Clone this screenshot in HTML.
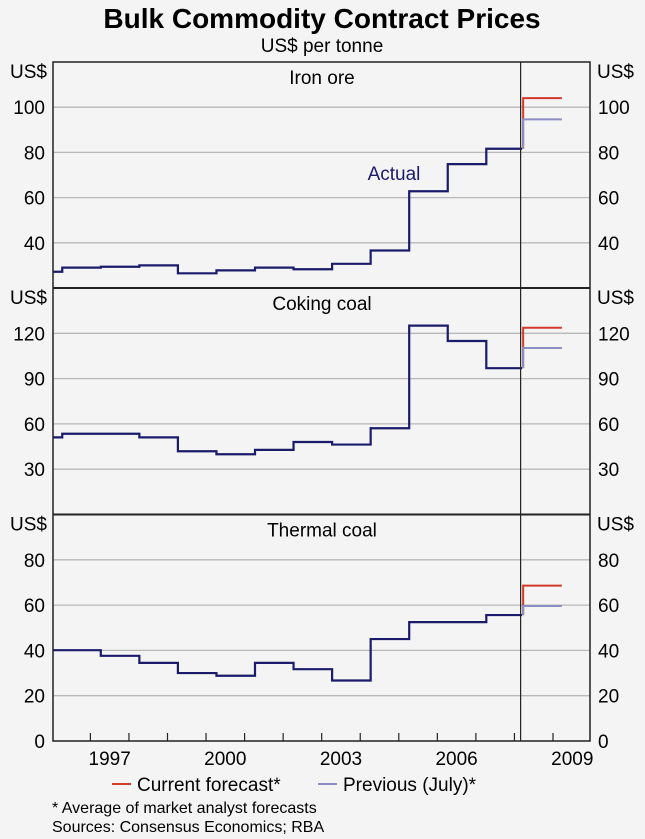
<!DOCTYPE html>
<html><head><meta charset="utf-8"><style>
html,body{margin:0;padding:0;background:#f4f4f4;}
svg{display:block;font-family:"Liberation Sans",Arial,sans-serif;}
</style></head><body>
<svg id="chart" width="645" height="839" viewBox="0 0 645 839" xmlns="http://www.w3.org/2000/svg">
<rect x="0" y="0" width="645" height="839" fill="#f4f4f4"/>
<text x="322" y="28" text-anchor="middle" font-size="28" font-weight="bold" fill="#000">Bulk Commodity Contract Prices</text>
<text x="322" y="52" text-anchor="middle" font-size="19" fill="#000">US$ per tonne</text>
<g id="plots"></g>
<g>
<line x1="112" y1="784" x2="131" y2="784" stroke="#d23a2a" stroke-width="2"/>
<text x="137" y="791" font-size="19">Current forecast*</text>
<line x1="318" y1="784" x2="337" y2="784" stroke="#8a8ec2" stroke-width="2"/>
<text x="343" y="791" font-size="19">Previous (July)*</text>
</g>
<text x="52" y="813" font-size="16">*   Average of market analyst forecasts</text>
<text x="52" y="832" font-size="16">Sources: Consensus Economics; RBA</text>
</svg>
<script>
// Data: fiscal-year contract prices FY1995..FY2007
const fiscalYears = [1995,1996,1997,1998,1999,2000,2001,2002,2003,2004,2005,2006,2007];
const ironOre = [27.2,29.0,29.4,30.0,26.5,27.8,29.0,28.3,30.7,36.6,62.8,74.8,81.6];
const cokingCoal = [51.1,53.5,53.5,51.1,41.9,39.9,42.8,48.0,46.3,57.1,125.1,114.9,96.9];
const thermalCoal = [40.1,40.1,37.6,34.5,30.0,28.8,34.5,31.7,26.7,45.0,52.5,52.5,55.6];
const currentForecast = [104, 123.7, 68.6];
const previousForecast = [94.6, 110.3, 59.6];
const panelTitles = ["Iron ore","Coking coal","Thermal coal"];
const yTicksIron = [40,60,80,100];
const yTicksCoking = [30,60,90,120];
const yTicksThermal = [0,20,40,60,80];
const xLabels = [1997,2000,2003,2006,2009];

const NS = "http://www.w3.org/2000/svg";
const svg = document.getElementById('plots');
const L = 53, R = 590;
const xMin = 1996.03, xMax = 2009.96;
function xs(t){ return L + (t - xMin) / (xMax - xMin) * (R - L); }
function mk(tag, attrs, parent){
  const e = document.createElementNS(NS, tag);
  for (const k in attrs) e.setAttribute(k, attrs[k]);
  (parent || svg).appendChild(e);
  return e;
}
const panels = [
  {top:62, bot:288, min:20, max:120, ticks:yTicksIron, data:ironOre, slug:'iron-ore'},
  {top:288, bot:514.5, min:0, max:150, ticks:yTicksCoking, data:cokingCoal, slug:'coking-coal'},
  {top:514.5, bot:741, min:0, max:100, ticks:yTicksThermal, data:thermalCoal, slug:'thermal-coal'}
];
const stepOff = 0.27, fcStart = 2008.2, fcEnd = 2009.23;

panels.forEach((p, i) => {
  const ys = v => p.bot - (v - p.min) / (p.max - p.min) * (p.bot - p.top);
  const g = mk('g', {});
  
  
  p.ticks.forEach(v => {
    if (v > p.min && v < p.max) {
      const gl = mk('line', {x1:L, x2:R, y1:ys(v), y2:ys(v), stroke:'#b8b8b8', 'stroke-width':1.3}, g);
      
      
    }
    const t1 = mk('text', {x:L-8, y:ys(v)+7, 'text-anchor':'end', 'font-size':19}, g);
    t1.textContent = v;
    
    
    const t2 = mk('text', {x:R+8, y:ys(v)+7, 'text-anchor':'start', 'font-size':19}, g);
    t2.textContent = v;
    
    
  });
  const u1 = mk('text', {x:L-43, y:p.top+16, 'font-size':19}, g);
  u1.textContent = 'US$';
  
  
  const u2 = mk('text', {x:R+7, y:p.top+16, 'font-size':19}, g);
  u2.textContent = 'US$';
  
  
  const tt = mk('text', {x:322, y:p.top+22, 'text-anchor':'middle', 'font-size':19}, g);
  tt.textContent = panelTitles[i];
  
  
  let d = '';
  p.data.forEach((v, k) => {
    const x0 = xs(Math.max(xMin, fiscalYears[k] + stepOff));
    const x1 = xs(k === p.data.length - 1 ? fcStart : fiscalYears[k] + 1 + stepOff);
    d += (k === 0 ? 'M' : 'L') + x0 + ',' + ys(v) + 'L' + x1 + ',' + ys(v);
  });
  const act = mk('path', {d:d, fill:'none', stroke:'#1b1b6b', 'stroke-width':2.2}, g);
  
  
  const last = p.data[p.data.length - 1];
  const cur = mk('path', {d:'M'+(xs(fcStart)+1)+','+ys(last)+'V'+ys(currentForecast[i])+'H'+xs(fcEnd), fill:'none', stroke:'#d23a2a', 'stroke-width':2}, g);
  
  
  const prev = mk('path', {d:'M'+(xs(fcStart)+1)+','+ys(last)+'V'+ys(previousForecast[i])+'H'+xs(fcEnd), fill:'none', stroke:'#8a8ec2', 'stroke-width':2}, g);
  
  
});
const fr = mk('rect', {x:L, y:62, width:R-L, height:741-62, fill:'none', stroke:'#222', 'stroke-width':1.5});


[288, 514.5].forEach(y => {
  const s = mk('line', {x1:L, x2:R, y1:y, y2:y, stroke:'#222', 'stroke-width':2});
  
  
});
const vl = mk('line', {x1:xs(2008.16), x2:xs(2008.16), y1:62, y2:741, stroke:'#222', 'stroke-width':1.2});


for (let t = 1997; t <= 2009; t++) {
  const tk = mk('line', {x1:xs(t), x2:xs(t), y1:741, y2:733, stroke:'#222', 'stroke-width':1.2});
  
  
}
xLabels.forEach(yr => {
  const t = mk('text', {x:xs(yr + 0.5), y:765, 'text-anchor':'middle', 'font-size':19});
  t.textContent = yr;
  
  
});
const ac = mk('text', {x:394, y:180, 'text-anchor':'middle', 'font-size':19, fill:'#1b1b6b'});
ac.textContent = 'Actual';


</script>
</body></html>
